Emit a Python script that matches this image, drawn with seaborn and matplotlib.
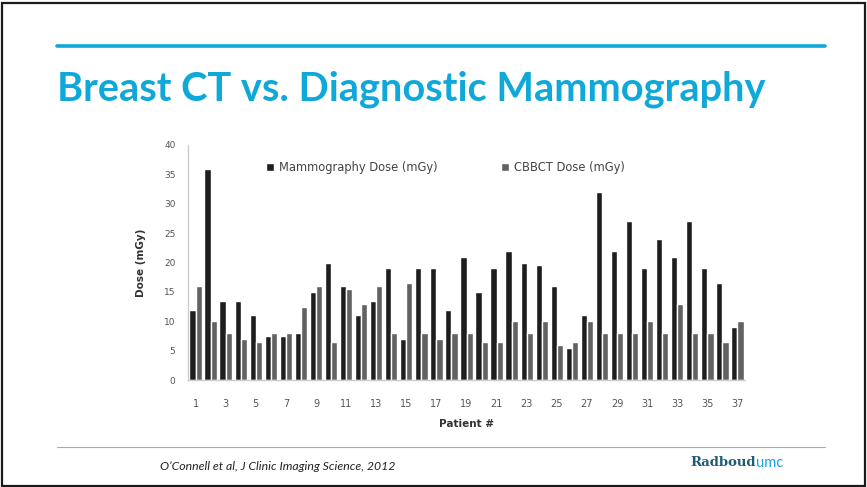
import matplotlib
matplotlib.use("Agg")
import matplotlib.pyplot as plt
from matplotlib.patches import Rectangle
from matplotlib.lines import Line2D
import seaborn as sns
import pandas as pd
import numpy as np

# values (mGy per patient)
patients = list(range(1, 38))
mammo_dose = [12, 36, 13.5, 13.5, 11, 7.5, 7.5, 8, 15, 20, 16, 11, 13.5, 19, 7,
              19, 19, 12, 21, 15, 19, 22, 20, 19.5, 16, 5.5, 11, 32, 22, 27,
              19, 24, 21, 27, 19, 16.5, 9]
cbbct_dose = [16, 10, 8, 7, 6.5, 8, 8, 12.5, 16, 6.5, 15.5, 13, 16, 8, 16.5,
              8, 7, 8, 8, 6.5, 6.5, 10, 8, 10, 6, 6.5, 10, 8, 8, 8,
              10, 8, 13, 8, 8, 6.5, 10]
series_names = ["Mammography Dose (mGy)", "CBBCT Dose (mGy)"]
y_ticks = [0, 5, 10, 15, 20, 25, 30, 35, 40]
x_tick_labels = [str(p) for p in patients[::2]]

df = pd.DataFrame({
    "patient": [str(p) for p in patients] * 2,
    "dose": mammo_dose + cbbct_dose,
    "series": [series_names[0]] * len(patients) + [series_names[1]] * len(patients),
})

sns.set_theme(style="white")
plt.rcParams["font.family"] = ["Lato", "DejaVu Sans"]

W, H = 867, 487
fig = plt.figure(figsize=(W / 100, H / 100), dpi=100)
fig.patch.set_facecolor("white")

cyan = "#0fa9d9"
chart_font = ["DejaVu Sans"]

# slide frame and decorations
fig.patches.append(Rectangle((2 / W, 1 / H), (W - 4) / W, (H - 4) / H,
                             transform=fig.transFigure, fill=False,
                             edgecolor="#1a1a1a", linewidth=1.6))
fig.lines.append(Line2D([57 / W, 825 / W], [1 - 46 / H, 1 - 46 / H],
                        transform=fig.transFigure, color=cyan, linewidth=2.6))
fig.lines.append(Line2D([57 / W, 825 / W], [1 - 447 / H, 1 - 447 / H],
                        transform=fig.transFigure, color="#5cc3e6", linewidth=0.8))
fig.text(57 / W, 1 - 89 / H, "Breast CT vs. Diagnostic Mammography",
         color=cyan, fontsize=28.6, fontweight="bold", va="center", ha="left")
fig.text(160 / W, 1 - 467 / H, "O\u2019Connell et al, J Clinic Imaging Science, 2012",
         fontsize=8.8, style="italic", color="#222222", va="center", ha="left")
t = fig.text(690 / W, 1 - 463 / H, "Radboud", fontsize=9.5, fontweight="bold",
             color="#1d5b78", va="center", ha="left",
             family=["DejaVu Serif"])
fig.canvas.draw()
bb = t.get_window_extent()
fig.text(bb.x1 / W + 0.001, 1 - 463 / H, "umc", fontsize=10.5,
         color="#1fa3d6", va="center", ha="left")

# chart
ax = fig.add_axes([188 / W, 1 - 380 / H, 557 / W, 235 / H])
sns.barplot(data=df, x="patient", y="dose", hue="series",
            palette=["#1e1e1e", "#626262"], width=0.82, ax=ax,
            saturation=1, legend=True)
ax.set_ylim(0, 40)
ax.set_yticks(y_ticks)
ax.set_yticklabels([str(v) for v in y_ticks], fontsize=6.5, color="#555555",
                   family=chart_font)
ax.set_xticks(range(0, len(patients), 2))
ax.set_xticklabels(x_tick_labels, fontsize=7, color="#555555", family=chart_font)
ax.tick_params(axis="both", length=0)
ax.tick_params(axis="x", pad=14)
ax.tick_params(axis="y", pad=9)
ax.set_xlabel("Patient #", fontsize=7.5, color="#333333", fontweight="bold",
              labelpad=7, family=chart_font)
ax.set_ylabel("Dose (mGy)", fontsize=7.5, color="#333333", fontweight="bold",
              labelpad=13, family=chart_font)
for side in ["top", "right"]:
    ax.spines[side].set_visible(False)
for side in ["left", "bottom"]:
    ax.spines[side].set_color("#cccccc")
    ax.spines[side].set_linewidth(1)
ax.set_facecolor("white")

leg = ax.legend(loc="center left", bbox_to_anchor=(0.122, 0.906), ncol=2,
                frameon=False, prop={"family": chart_font, "size": 8.3},
                handlelength=0.7, handleheight=0.7,
                columnspacing=5.5, handletextpad=0.4)
for txt in leg.get_texts():
    txt.set_color("#444444")

fig.savefig("out.png", dpi=100, facecolor="white")
